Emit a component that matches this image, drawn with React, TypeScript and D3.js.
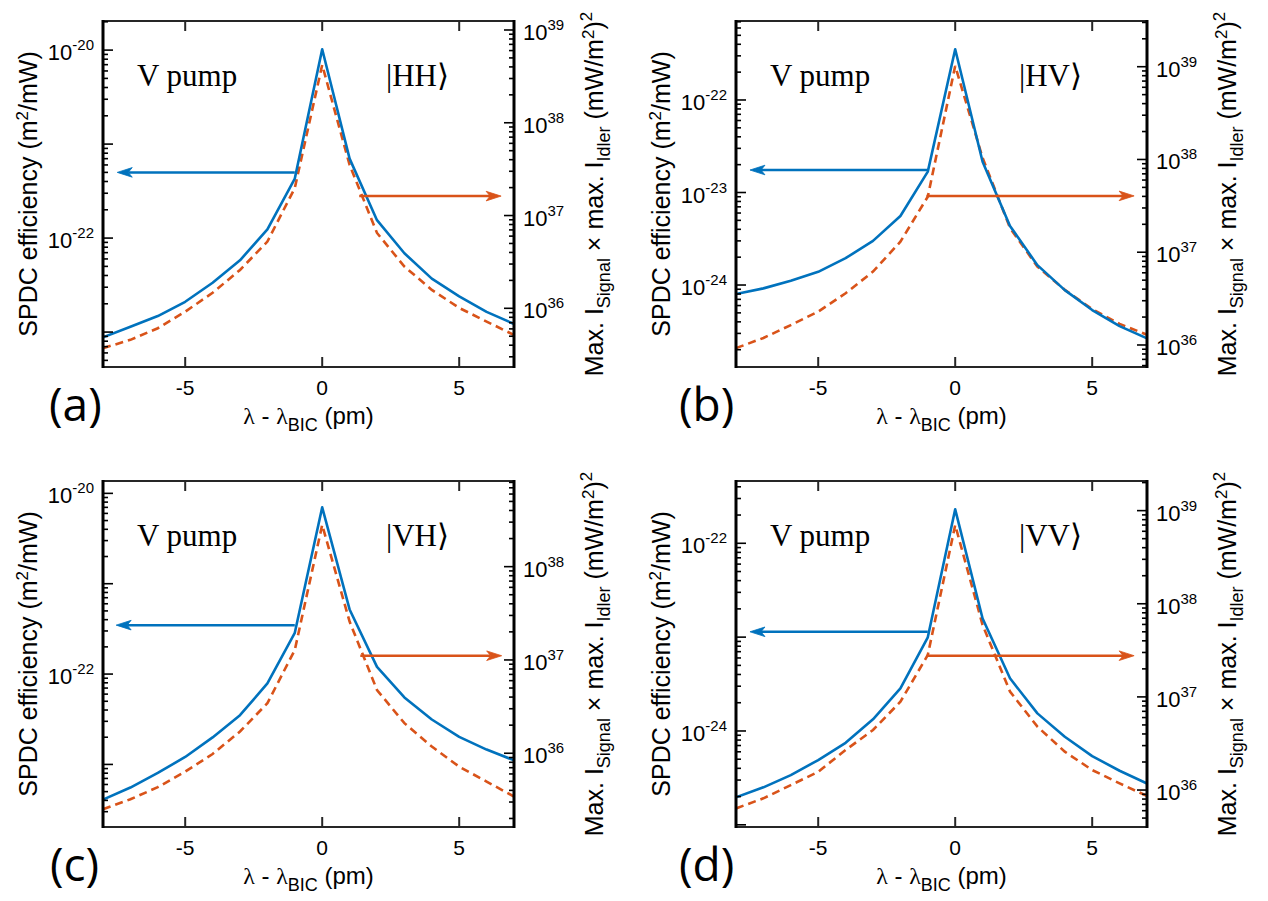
import React from 'react';
import * as d3 from 'd3';

// ---------------- DATA ----------------
const lambdaOffsets = [-8, -7, -6, -5, -4, -3, -2, -1, 0, 1, 2, 3, 4, 5, 6, 7];
const xLim = [-8, 7];
const xTicks = [-5, 0, 5];

// SPDC efficiency (m^2/mW) – left axis, solid blue
const effHH = [8.8e-24, 1.14e-23, 1.48e-23, 2.1e-23, 3.35e-23, 5.8e-23, 1.24e-22, 4.3e-22, 1.02e-20, 7.0e-22, 1.55e-22, 6.9e-23, 3.7e-23, 2.4e-23, 1.64e-23, 1.22e-23];
const effHV = [8.0e-25, 9.2e-25, 1.11e-24, 1.39e-24, 1.95e-24, 3.0e-24, 5.57e-24, 1.68e-23, 3.53e-22, 2.15e-23, 4.35e-24, 1.64e-24, 8.8e-25, 5.37e-25, 3.6e-25, 2.65e-25];
const effVH = [4.08e-24, 5.55e-24, 8.05e-24, 1.21e-23, 1.99e-23, 3.51e-23, 7.87e-23, 2.86e-22, 7.0e-21, 5.19e-22, 1.2e-22, 5.51e-23, 3.14e-23, 2.02e-23, 1.46e-23, 1.11e-23];
const effVV = [1.96e-25, 2.51e-25, 3.39e-25, 4.9e-25, 7.48e-25, 1.33e-24, 2.84e-24, 9.95e-24, 2.3e-22, 1.58e-23, 3.64e-24, 1.54e-24, 8.67e-25, 5.4e-25, 3.77e-25, 2.76e-25];

// Max. I_Signal x max. I_Idler ((mW/m^2)^2) – right axis, dashed orange
const prodHH = [3.72e35, 4.57e35, 6.1e35, 9.2e35, 1.47e36, 2.59e36, 5.24e36, 1.98e37, 4.2e38, 3.51e37, 6.49e36, 2.82e36, 1.58e36, 1.01e36, 7.2e35, 5.16e35];
const prodHV = [9.25e35, 1.19e36, 1.64e36, 2.29e36, 3.61e36, 6.18e36, 1.3e37, 3.97e37, 1.02e39, 1.04e38, 1.83e37, 7.0e36, 3.93e36, 2.43e36, 1.69e36, 1.29e36];
const prodVH = [2.51e35, 3.21e35, 4.33e35, 6.35e35, 9.82e35, 1.71e36, 3.44e36, 1.28e37, 2.8e38, 2.58e37, 4.76e36, 2.1e36, 1.18e36, 7.18e35, 4.97e35, 3.43e35];
const prodVV = [6.35e35, 8.15e35, 1.13e36, 1.57e36, 2.69e36, 4.41e36, 8.87e36, 2.82e37, 7.0e38, 5.92e37, 1.14e37, 4.79e36, 2.58e36, 1.64e36, 1.18e36, 8.63e35];

// axis limits
const effLimHH = [4.25e-24, 2.04e-20];
const prodLimHH = [2.33e35, 1.25e39];
const effLimHV = [1.3e-25, 7.14e-22];
const prodLimHV = [5.79e35, 3.11e39];
const effLimVH = [2.03e-24, 1.37e-20];
const prodLimVH = [1.62e35, 8.28e38];
const effLimVV = [9.48e-26, 4.61e-22];
const prodLimVV = [4.01e35, 2.08e39];

// labelled decades
const effLabelsHH = [-20, -22];
const effLabelsHV = [-22, -23, -24];
const effLabelsVH = [-20, -22];
const effLabelsVV = [-22, -24];
const prodLabelsHH = [39, 38, 37, 36];
const prodLabelsHV = [39, 38, 37, 36];
const prodLabelsVH = [38, 37, 36];
const prodLabelsVV = [39, 38, 37, 36];

// arrows: [x from, x to (tip), y value]
const blueArrowHH = [-1, -7.48, 5.0e-22];
const orangeArrowHH = [1.35, 6.53, 1.62e37];
const blueArrowHV = [-1, -7.49, 1.75e-23];
const orangeArrowHV = [-1.05, 6.53, 4.05e37];
const blueArrowVH = [-1, -7.52, 3.48e-22];
const orangeArrowVH = [1.39, 6.55, 1.11e37];
const blueArrowVV = [-1, -7.49, 1.14e-23];
const orangeArrowVV = [-1.05, 6.53, 2.77e37];

const kets = ['|HH⟩', '|HV⟩', '|VH⟩', '|VV⟩'];
const letters = ['(a)', '(b)', '(c)', '(d)'];

// ---------------- STYLE / LAYOUT ----------------
const BLUE = '#0072BD';
const ORANGE = '#D95319';
const SANS = "'Liberation Sans', Arial, Helvetica, sans-serif";
const SERIF = "'Liberation Serif', 'Times New Roman', 'DejaVu Serif', serif";

const panels = [
  { left: 103, right: 514, top: 21, bottom: 367, eff: effHH, prod: prodHH, effLim: effLimHH, prodLim: prodLimHH, effLabels: effLabelsHH, prodLabels: prodLabelsHH, blueArrow: blueArrowHH, orangeArrow: orangeArrowHH, ket: kets[0], letter: letters[0], letterX: 49, letterY: 421 },
  { left: 736, right: 1147, top: 21, bottom: 367, eff: effHV, prod: prodHV, effLim: effLimHV, prodLim: prodLimHV, effLabels: effLabelsHV, prodLabels: prodLabelsHV, blueArrow: blueArrowHV, orangeArrow: orangeArrowHV, ket: kets[1], letter: letters[1], letterX: 679, letterY: 421 },
  { left: 103, right: 514, top: 481, bottom: 827, eff: effVH, prod: prodVH, effLim: effLimVH, prodLim: prodLimVH, effLabels: effLabelsVH, prodLabels: prodLabelsVH, blueArrow: blueArrowVH, orangeArrow: orangeArrowVH, ket: kets[2], letter: letters[2], letterX: 50, letterY: 881 },
  { left: 736, right: 1147, top: 481, bottom: 827, eff: effVV, prod: prodVV, effLim: effLimVV, prodLim: prodLimVV, effLabels: effLabelsVV, prodLabels: prodLabelsVV, blueArrow: blueArrowVV, orangeArrow: orangeArrowVV, ket: kets[3], letter: letters[3], letterX: 679, letterY: 881 },
];

function logTicks(lim: number[]) {
  const out: { v: number; major: boolean }[] = [];
  const lo = Math.floor(Math.log10(lim[0]));
  const hi = Math.ceil(Math.log10(lim[1]));
  for (let d = lo; d <= hi; d++) {
    for (let k = 1; k <= 9; k++) {
      const v = k * Math.pow(10, d);
      if (v >= lim[0] && v <= lim[1]) out.push({ v, major: k === 1 });
    }
  }
  return out;
}

function Arrow({ x1, x2, y, color }: { x1: number; x2: number; y: number; color: string }) {
  const dir = x2 > x1 ? 1 : -1;
  const L = 15, hw = 4.8, back = 11;
  const head = [
    [x2, y],
    [x2 - dir * L, y - hw],
    [x2 - dir * back, y],
    [x2 - dir * L, y + hw],
  ].map((p) => p.join(',')).join(' ');
  return (
    <g>
      <line x1={x1} y1={y} x2={x2 - dir * back} y2={y} stroke={color} strokeWidth={2.5} />
      <polygon points={head} fill={color} stroke={color} strokeWidth={0.8} />
    </g>
  );
}

function Panel({ p }: { p: any }) {
  const x = d3.scaleLinear().domain(xLim).range([p.left, p.right]);
  const yL = d3.scaleLog().domain(p.effLim).range([p.bottom, p.top]);
  const yR = d3.scaleLog().domain(p.prodLim).range([p.bottom, p.top]);
  const lineL = d3.line<number>().x((_, i) => x(lambdaOffsets[i])).y((d) => yL(d));
  const lineR = d3.line<number>().x((_, i) => x(lambdaOffsets[i])).y((d) => yR(d));
  const cy = (p.top + p.bottom) / 2;
  const cx = (p.left + p.right) / 2;
  const clipId = `clip-${p.left}-${p.top}`;

  return (
    <g>
      <defs>
        <clipPath id={clipId}>
          <rect x={p.left} y={p.top} width={p.right - p.left} height={p.bottom - p.top} />
        </clipPath>
      </defs>

      {/* curves */}
      <g clipPath={`url(#${clipId})`}>
        <path d={lineR(p.prod) || ''} fill="none" stroke={ORANGE} strokeWidth={2.6} strokeDasharray="8 5" />
        <path d={lineL(p.eff) || ''} fill="none" stroke={BLUE} strokeWidth={2.6} strokeLinejoin="round" />
      </g>

      {/* arrows */}
      <Arrow x1={x(p.blueArrow[0])} x2={x(p.blueArrow[1])} y={yL(p.blueArrow[2])} color={BLUE} />
      <Arrow x1={x(p.orangeArrow[0])} x2={x(p.orangeArrow[1])} y={yR(p.orangeArrow[2])} color={ORANGE} />

      {/* frame */}
      <line x1={p.left} y1={p.top} x2={p.right} y2={p.top} stroke="#262626" strokeWidth={2} />
      <line x1={p.left} y1={p.bottom} x2={p.right} y2={p.bottom} stroke="#262626" strokeWidth={2} />
      <line x1={p.left} y1={p.top - 1} x2={p.left} y2={p.bottom + 1} stroke="#000" strokeWidth={3} />
      <line x1={p.right} y1={p.top - 1} x2={p.right} y2={p.bottom + 1} stroke="#000" strokeWidth={3} />

      {/* x ticks */}
      {xTicks.map((t) => (
        <g key={`xt${t}`}>
          <line x1={x(t)} x2={x(t)} y1={p.bottom} y2={p.bottom - 10} stroke="#262626" strokeWidth={2} />
          <line x1={x(t)} x2={x(t)} y1={p.top} y2={p.top + 10} stroke="#262626" strokeWidth={2} />
          <text x={x(t)} y={p.bottom + 28} textAnchor="middle" fontFamily={SANS} fontSize={21} fill="#000">
            {t}
          </text>
        </g>
      ))}

      {/* left y ticks */}
      {logTicks(p.effLim).map((t, i) => (
        <line key={`lt${i}`} x1={p.left} x2={p.left + (t.major ? 10 : 5)} y1={yL(t.v)} y2={yL(t.v)} stroke="#000" strokeWidth={1.6} />
      ))}
      {p.effLabels.map((e: number) => (
        <text key={`ll${e}`} x={p.left - 9} y={yL(Math.pow(10, e)) + 10} textAnchor="end" fontFamily={SANS} fontSize={22} fill="#000">
          10<tspan dy={-10} fontSize={15}>{e}</tspan>
        </text>
      ))}

      {/* right y ticks */}
      {logTicks(p.prodLim).map((t, i) => (
        <line key={`rt${i}`} x1={p.right} x2={p.right - (t.major ? 10 : 5)} y1={yR(t.v)} y2={yR(t.v)} stroke="#000" strokeWidth={1.6} />
      ))}
      {p.prodLabels.map((e: number) => (
        <text key={`rl${e}`} x={p.right + 9} y={yR(Math.pow(10, e)) + 10} textAnchor="start" fontFamily={SANS} fontSize={22} fill="#000">
          10<tspan dy={-10} fontSize={15}>{e}</tspan>
        </text>
      ))}

      {/* axis labels */}
      <text x={cx} y={p.bottom + 57} textAnchor="middle" fontFamily={SANS} fontSize={24} fill="#000">
        <tspan fontFamily={SERIF}>λ</tspan> - <tspan fontFamily={SERIF}>λ</tspan>
        <tspan dy={7} fontSize={18}>BIC</tspan>
        <tspan dy={-7}> (pm)</tspan>
      </text>
      <text transform={`translate(${p.left - 66},${cy}) rotate(-90)`} textAnchor="middle" fontFamily={SANS} fontSize={25} fill="#000">
        SPDC efficiency (m<tspan dy={-9} fontSize={17}>2</tspan>
        <tspan dy={9}>/mW)</tspan>
      </text>
      <text transform={`translate(${p.right + 89},${cy}) rotate(-90)`} textAnchor="middle" fontFamily={SANS} fontSize={25} fill="#000">
        Max. I<tspan dy={7} fontSize={18}>Signal</tspan>
        <tspan dy={-7}> × max. I</tspan>
        <tspan dy={7} fontSize={18}>Idler</tspan>
        <tspan dy={-7}> (mW/m</tspan>
        <tspan dy={-9} fontSize={17}>2</tspan>
        <tspan dy={9}>)</tspan>
        <tspan dy={-11} fontSize={17}>2</tspan>
      </text>

      {/* annotations */}
      <text x={p.left + 34} y={p.top + 65} fontFamily={SERIF} fontSize={31} fill="#000">V pump</text>
      <text x={p.left + 283} y={p.top + 65} fontFamily={SERIF} fontSize={31} fill="#000">{p.ket}</text>
      <text x={p.letterX} y={p.letterY} fontFamily="'Open Sans', Lato, sans-serif" fontSize={46} fill="#000">{p.letter}</text>
    </g>
  );
}

export default function App() {
  return (
    <svg width={1268} height={901} viewBox="0 0 1268 901" style={{ position: 'absolute', left: 0, top: 0, background: '#fff' }}>
      <rect x={0} y={0} width={1268} height={901} fill="#fff" />
      {panels.map((p, i) => (
        <Panel key={i} p={p} />
      ))}
    </svg>
  );
}
